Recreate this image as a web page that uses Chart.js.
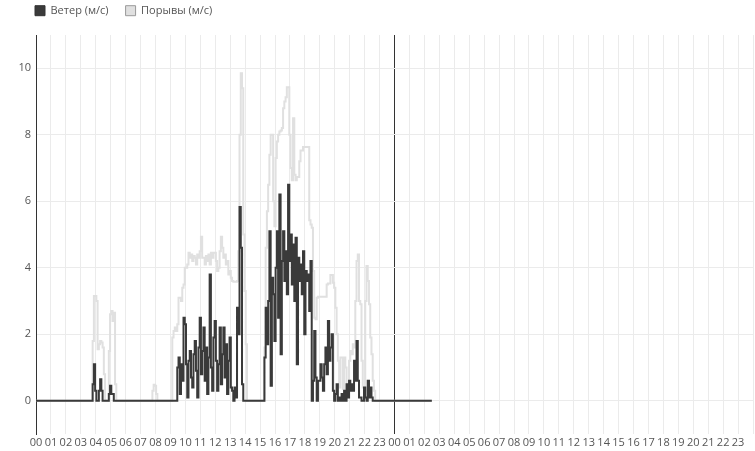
<!DOCTYPE html>
<html>
<head>
<meta charset="utf-8">
<script src="https://cdn.jsdelivr.net/npm/chart.js@4.4.1/dist/chart.umd.min.js"></script>
<style>
html,body{margin:0;padding:0;background:#fff;}
#wrap{width:755px;height:451px;position:relative;}
</style>
</head>
<body>
<div id="wrap"><canvas id="c"></canvas></div>
<script>
const seriesNames = ["Ветер (м/с)", "Порывы (м/с)"];
const xTickLabels = ["00","01","02","03","04","05","06","07","08","09","10","11","12","13","14","15","16","17","18","19","20","21","22","23",
                     "00","01","02","03","04","05","06","07","08","09","10","11","12","13","14","15","16","17","18","19","20","21","22","23"];
const yTickValues = [0, 2, 4, 6, 8, 10];

const times = [
  "00:00","03:45","03:50","03:55","04:00","04:05","04:10","04:15","04:20","04:25","04:30","04:35","04:40","04:45","04:50","04:55",
  "05:00","05:05","05:10","05:15","05:20","05:25","07:45","07:50","07:55","08:00","08:05","08:10",
  "09:05","09:10","09:15","09:20","09:25","09:30","09:35","09:40","09:45","09:50","09:55",
  "10:00","10:05","10:10","10:15","10:20","10:25","10:30","10:35","10:40","10:45","10:50","10:55",
  "11:00","11:05","11:10","11:15","11:20","11:25","11:30","11:35","11:40","11:45","11:50","11:55",
  "12:00","12:05","12:10","12:15","12:20","12:25","12:30","12:35","12:40","12:45","12:50","12:55",
  "13:00","13:05","13:10","13:15","13:20","13:25","13:30","13:35","13:40","13:45","13:50","13:55",
  "14:00","14:05","14:10","15:15","15:20","15:25","15:30","15:35","15:40","15:45","15:50","15:55",
  "16:00","16:05","16:10","16:15","16:20","16:25","16:30","16:35","16:40","16:45","16:50","16:55",
  "17:00","17:05","17:10","17:15","17:20","17:25","17:30","17:35","17:40","17:45","17:50","17:55",
  "18:00","18:05","18:10","18:15","18:20","18:25","18:30","18:35","18:40","18:45","18:50","18:55",
  "19:00","19:05","19:10","19:15","19:20","19:25","19:30","19:35","19:40","19:45","19:50","19:55",
  "20:00","20:05","20:10","20:15","20:20","20:25","20:30","20:35","20:40","20:45","20:50","20:55",
  "21:00","21:05","21:10","21:15","21:20","21:25","21:30","21:35","21:40","21:45","21:50","21:55",
  "22:00","22:05","22:10","22:15","22:20","22:25","22:30","22:35","22:40","22:45","26:30"
];

const wind = [
  0,0,0.5,1.1,0.3,0,0,0.3,0.65,0.3,0,0,0,0,0,0.2,
  0.45,0.2,0.2,0,0,0,0,0,0,0,0,0,
  0,0,0,0,0,1.0,1.3,0.2,1.1,0.6,2.5,
  2.3,1.1,0.1,1.2,1.5,0.7,0.4,1.4,1.8,0.9,0.1,1.6,
  2.5,0.8,1.5,2.2,0.6,1.6,0.2,1.3,3.8,1.0,0.3,1.9,
  2.4,1.2,0.3,1.1,2.2,0.5,1.4,2.2,0.7,1.7,0.2,1.2,
  1.9,0.4,0.3,0,0.4,0.1,2.8,2.0,5.83,4.6,0.5,0,
  0,0,0,0,1.3,2.8,1.7,3.0,5.1,0.45,3.7,3.2,
  1.8,4.0,5.1,2.5,6.2,1.4,4.2,5.1,3.6,4.5,3.2,6.5,
  4.2,5.0,3.5,4.7,3.0,4.9,1.1,4.3,3.6,4.1,3.2,4.5,
  2.0,3.9,3.6,3.8,2.7,4.2,0,0.6,2.1,0.7,0,0.6,
  0.6,1.1,0.7,0.3,1.1,1.6,0.8,2.4,1.2,1.6,2.0,0.3,
  0,0.2,0.5,0,0.1,0,0.2,0,0.3,0,0.5,0.1,
  0.6,0.3,0.5,0.3,1.2,0.6,1.8,0.6,0.1,0.1,0,0,
  0.4,0.1,0,0.6,0.1,0.4,0.1,0,0,0,0
];

const gusts = [
  0,0,1.8,3.15,3.15,3.0,1.55,1.7,1.8,1.75,1.6,0.8,0,0,0,1.5,
  2.6,2.7,2.4,2.65,0.5,0,0,0.3,0.48,0.45,0.2,0,
  0,1.9,2.1,2.2,2.1,2.3,3.1,3.1,3.0,3.4,3.5,
  4.0,4.0,4.1,4.45,4.3,4.4,4.2,4.35,4.3,4.1,4.4,4.3,
  4.5,4.93,4.3,4.3,4.1,4.35,4.2,4.4,4.1,4.45,4.3,4.45,
  4.45,4.2,3.9,4.0,4.5,4.93,4.6,4.3,4.4,4.1,4.2,3.8,
  3.9,3.7,3.6,3.58,3.58,3.58,3.6,4.5,8.0,9.85,9.4,5.0,
  3.3,1.7,0,0,1.6,4.6,5.7,6.5,7.4,8.0,8.0,6.0,
  5.25,7.3,7.8,8.0,8.1,8.13,8.2,8.8,9.0,9.13,9.43,9.43,
  8.0,7.0,6.63,8.5,6.8,6.63,6.73,6.73,7.2,7.53,7.53,7.63,
  7.63,7.63,7.63,7.63,5.43,5.3,5.2,3.9,2.5,2.45,3.1,3.13,
  3.13,3.13,3.13,3.13,3.13,3.13,3.5,3.53,3.53,3.78,3.78,3.55,
  3.4,2.8,2.0,1.2,0.4,1.3,1.3,0.35,1.3,1.0,0.2,0.5,
  1.2,1.5,1.4,1.7,1.6,3.0,4.2,4.4,3.0,2.9,1.2,0.4,
  0.3,3.0,4.05,3.6,2.9,1.9,1.4,0.6,0.3,0,0
];

function toHours(s) { const p = s.split(":"); return (+p[0]) + (+p[1]) / 60; }
const xs = times.map(toHours);

const WIND_COLOR = "#3a3a3a";
const GUST_COLOR = "#e0e0e0";
const legendFill = [WIND_COLOR, GUST_COLOR];
const legendStroke = ["#333333", "#9a9a9a"];
const FONT = "'Open Sans', 'Noto Sans', sans-serif";
const LEGEND_PAD = 17;

const layoutTweak = {
  id: 'layoutTweak',
  beforeInit(chart) {
    const origFit = chart.legend.fit;
    chart.legend.fit = function () {
      origFit.call(this);
      this.height = 35;
    };
  },
  afterLayout(chart) {
    const lg = chart.legend;
    const dx = 35 - LEGEND_PAD - lg.left;
    const dy = 5.2 - LEGEND_PAD - lg.top;
    lg.left += dx; lg.right += dx;
    lg.top += dy; lg.bottom += dy;
  }
};

new Chart(document.getElementById('c'), {
  type: 'line',
  data: {
    datasets: [
      {
        label: seriesNames[0],
        data: xs.map((x, i) => ({ x: x, y: wind[i] })),
        borderColor: WIND_COLOR,
        backgroundColor: WIND_COLOR,
        borderWidth: 2,
        pointRadius: 0,
        stepped: 'middle',
        fill: false
      },
      {
        label: seriesNames[1],
        data: xs.map((x, i) => ({ x: x, y: gusts[i] })),
        borderColor: GUST_COLOR,
        backgroundColor: GUST_COLOR,
        borderWidth: 2,
        pointRadius: 0,
        stepped: 'middle',
        fill: false
      }
    ]
  },
  options: {
    responsive: true,
    maintainAspectRatio: false,
    animation: false,
    layout: { padding: { left: 0, right: 1, top: 0, bottom: 0 } },
    plugins: {
      tooltip: { enabled: false },
      legend: {
        position: 'top',
        align: 'start',
        labels: {
          boxWidth: 10,
          boxHeight: 10,
          padding: LEGEND_PAD,
          color: '#555',
          font: { family: FONT, size: 11 },
          generateLabels(chart) {
            const items = Chart.defaults.plugins.legend.labels.generateLabels(chart);
            items.forEach((it, i) => {
              it.fillStyle = legendFill[i];
              it.strokeStyle = legendStroke[i];
              it.lineWidth = 1;
            });
            return items;
          }
        }
      }
    },
    scales: {
      x: {
        type: 'linear',
        min: 0,
        max: 48,
        afterBuildTicks(scale) {
          scale.ticks = xTickLabels.map((_, i) => ({ value: i })).concat([{ value: xTickLabels.length }]);
        },
        afterFit(scale) { scale.height = 17; },
        ticks: {
          autoSkip: false,
          maxRotation: 0,
          minRotation: 0,
          padding: 2,
          color: '#555',
          font: { family: FONT, size: 11 },
          callback(v) { return xTickLabels[v] !== undefined ? xTickLabels[v] : ''; }
        },
        grid: {
          drawTicks: false,
          color(ctx) { return ctx.tick && ctx.tick.value === 24 ? '#333' : '#ebebeb'; },
          lineWidth: 1
        },
        border: { display: false }
      },
      y: {
        type: 'linear',
        min: -1,
        max: 11,
        afterBuildTicks(scale) {
          scale.ticks = yTickValues.map(v => ({ value: v }));
        },
        afterFit(scale) { scale.width = 36; },
        ticks: {
          padding: 5,
          color: '#555',
          font: { family: FONT, size: 11 }
        },
        grid: {
          drawTicks: false,
          color: '#ebebeb',
          lineWidth: 1
        },
        border: { display: true, color: '#333', width: 1 }
      }
    }
  },
  plugins: [layoutTweak]
});
</script>
</body>
</html>
